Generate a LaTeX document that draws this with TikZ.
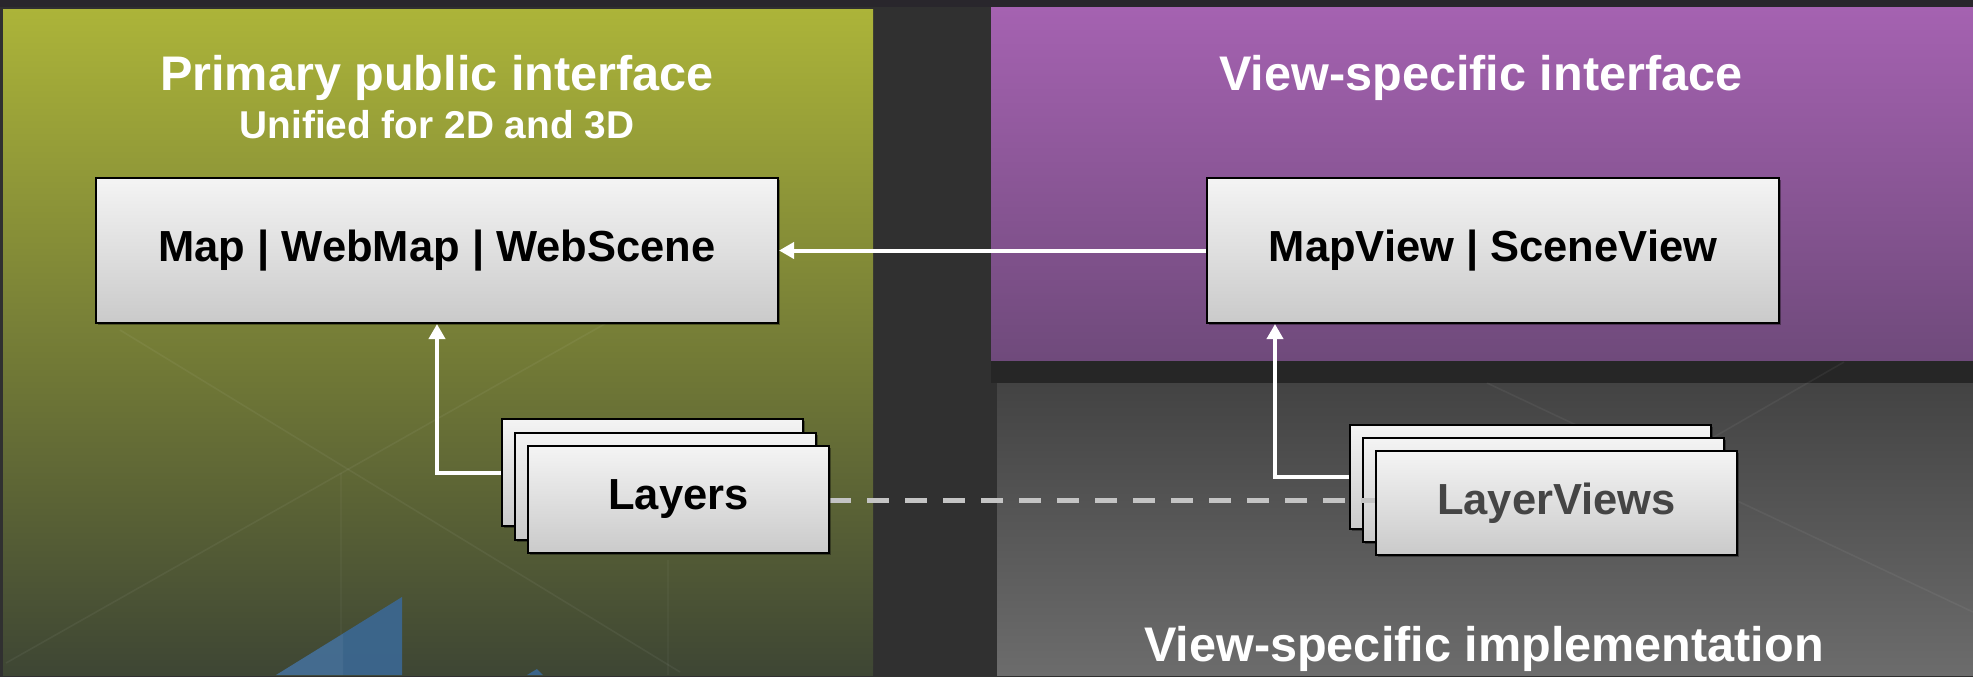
\documentclass[tikz,border=0pt]{standalone}
\usepackage{fontspec}
\setmainfont{Liberation Sans}
\usetikzlibrary{arrows.meta,shadows,calc}
\definecolor{bgdark}{HTML}{303030}
\definecolor{bgtop}{HTML}{29262C}
\definecolor{bandgray}{HTML}{262626}
\definecolor{olivetop}{HTML}{ACB439}
\definecolor{olivebot}{HTML}{3E4634}
\definecolor{purptop}{HTML}{A562B1}
\definecolor{purpbot}{HTML}{6F4A7B}
\definecolor{graytop}{HTML}{434343}
\definecolor{graybot}{HTML}{6C6C6C}
\definecolor{boxtop}{HTML}{F4F4F4}
\definecolor{boxbot}{HTML}{CACACA}
\definecolor{dashgray}{HTML}{C4C4C4}
\definecolor{lvtext}{HTML}{454545}
\definecolor{bluetri}{HTML}{3B6894}
\begin{document}
\begin{tikzpicture}[x=0.5pt,y=-0.5pt,
  card/.style={draw=black, line width=1pt, top color=boxtop, bottom color=boxbot,
    font=\bfseries\fontsize{21.75}{24}\selectfont, text=black, inner sep=0pt,
    drop shadow={shadow xshift=1.2pt,shadow yshift=-1.2pt,opacity=0.35,fill=black}},
  lcard/.style={card, minimum width=150.5pt, minimum height=53.5pt},
  vcard/.style={card, minimum width=180.5pt, minimum height=52pt},
  flow/.style={draw=white, line width=2pt, -{Triangle[length=7.5pt,width=8pt]}},
  link/.style={draw=dashgray, line width=2.5pt, dash pattern=on 11pt off 8pt},
  title/.style={text=white, font=\bfseries\fontsize{24.3}{28}\selectfont, inner sep=0pt, anchor=base},
  subtitle/.style={text=white, font=\bfseries\fontsize{19.4}{22}\selectfont, inner sep=0pt, anchor=base},
  faint/.style={draw=white, opacity=0.05, line width=0.8pt}
]
\useasboundingbox (0,0) rectangle (1973,677);
% background
\fill[bgdark] (0,0) rectangle (1973,677);
\fill[bgtop] (0,0) rectangle (1973,7);
% panels
\shade[top color=olivetop, bottom color=olivebot] (3,9) rectangle (873,675);
\shade[top color=purptop, bottom color=purpbot] (991,7) rectangle (1973,361);
\fill[bandgray] (991,361) rectangle (1973,383);
\shade[top color=graytop, bottom color=graybot] (997,383) rectangle (1973,675);
% faint background lines
\draw[faint] (6,663) -- (700,270);
\draw[faint] (120,330) -- (680,672);
\draw[faint, opacity=0.03] (341,473) -- (341,675);
\draw[faint, opacity=0.03] (668,560) -- (668,675);
\draw[faint] (1844,362) -- (1700,445);
\draw[faint] (1487,383) -- (1973,612);
% blue shapes
\fill[bluetri, opacity=0.9] (276,675) -- (402,597) -- (402,675) -- cycle;
\fill[white, opacity=0.05] (276,675) -- (343,634) -- (343,675) -- cycle;
\fill[bluetri, opacity=0.9] (527,675) -- (537,669) -- (543,675) -- cycle;
% titles
\node[title] (t1) at (437,90) {Primary public interface};
\node[subtitle] (t2) at (437,138) {Unified for 2D and 3D};
\node[title] (t3) at (1481,90) {View-specific interface};
\node[title] (t4) at (1484,661) {View-specific implementation};
% main boxes
\node[card, minimum width=341pt, minimum height=72.5pt] (map) at (437,250.5) {Map | WebMap | WebScene};
\node[card, minimum width=286pt, minimum height=72.5pt] (mv) at (1493,250.5) {MapView | SceneView};
% stacks
\node[lcard] (lb) at (652.5,472.5) {};
\node[lcard] (lm) at (665.5,486.5) {};
\node[vcard] (vb) at (1530,476.5) {};
\node[vcard] (vm) at (1543.5,489.5) {};
\coordinate (lfe) at (829,500);
\coordinate (vfw) at (1376,500);
\draw[link] (lfe) -- (vfw);
\node[lcard] (lf) at (678.5,499.5) {Layers};
\node[vcard, text=lvtext] (vf) at (1556.5,503) {LayerViews};
% connectors
\coordinate (mvin) at ($(mv.south west)+(69,0)$);
\draw[flow] (mv.west) -- (map.east);
\draw[flow] (lb.west) -| (map.south);
\draw[flow] (vb.west) -| (mvin);
\end{tikzpicture}
\end{document}
